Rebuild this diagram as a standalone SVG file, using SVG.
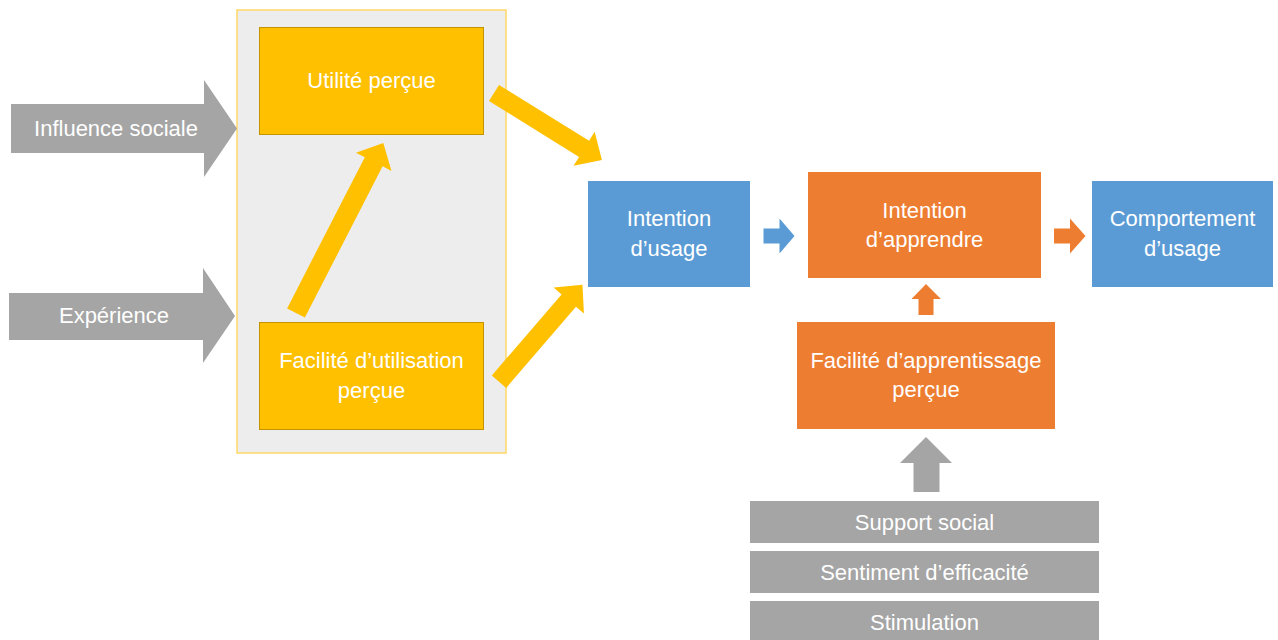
<svg xmlns="http://www.w3.org/2000/svg" width="1278" height="640" viewBox="0 0 1278 640">
<style>
text{font-family:"Liberation Sans",Arial,sans-serif;font-size:22px;fill:#ffffff;text-anchor:middle}
.gray{fill:#A5A5A5}
.yel{fill:#FFC000}
.yelbox{fill:#FFC000;stroke:#C49300;stroke-width:1}
.blue{fill:#5B9BD5}
.org{fill:#ED7D31}
</style>
<rect width="1278" height="640" fill="#ffffff"/>
<g id="container">
<rect x="237" y="10" width="269" height="443" fill="#EDEDED" stroke="#FFD966" stroke-width="1.5"/>
</g>
<g id="influence-sociale">
<polygon class="gray" points="11,104 204,104 204,80 237,128.5 204,177 204,153 11,153"/>
<text x="116" y="136">Influence sociale</text>
</g>
<g id="experience">
<polygon class="gray" points="9,293 203,293 203,268 235,316 203,363 203,340 9,340"/>
<text x="114" y="323">Expérience</text>
</g>
<g id="utilite-percue">
<rect class="yelbox" x="259.5" y="27.5" width="224" height="107"/>
<text x="371.5" y="88">Utilité perçue</text>
</g>
<g id="facilite-utilisation">
<rect class="yelbox" x="259.5" y="322.5" width="224" height="107"/>
<text x="371.5" y="368">Facilité d’utilisation</text>
<text x="371.5" y="398">perçue</text>
</g>
<g id="intention-usage">
<rect class="blue" x="588" y="181" width="162" height="106"/>
<text x="669" y="226">Intention</text>
<text x="669" y="256">d’usage</text>
</g>
<g id="intention-apprendre">
<rect class="org" x="808" y="172" width="233" height="106"/>
<text x="924.5" y="218">Intention</text>
<text x="924.5" y="247">d’apprendre</text>
</g>
<g id="comportement-usage">
<rect class="blue" x="1092" y="181" width="181" height="106"/>
<text x="1182.5" y="226">Comportement</text>
<text x="1182.5" y="256">d’usage</text>
</g>
<g id="facilite-apprentissage">
<rect class="org" x="797" y="322" width="258" height="107"/>
<text x="926" y="368">Facilité d’apprentissage</text>
<text x="926" y="397">perçue</text>
</g>
<g id="support-social">
<rect class="gray" x="750" y="501" width="349" height="42"/>
<text x="924.5" y="530">Support social</text>
</g>
<g id="sentiment-efficacite">
<rect class="gray" x="750" y="551" width="349" height="42"/>
<text x="924.5" y="580">Sentiment d’efficacité</text>
</g>
<g id="stimulation">
<rect class="gray" x="750" y="601" width="349" height="39"/>
<text x="924.5" y="630">Stimulation</text>
</g>
<g id="connectors">
<polygon class="yel" transform="translate(494,93) rotate(31.8)" points="0,-9.5 106,-9.5 106,-20 127,0 106,20 106,9.5 0,9.5"/>
<polygon class="yel" transform="translate(296,313) rotate(-62.8)" points="0,-10 170,-10 170,-20 191,0 170,20 170,10 0,10"/>
<polygon class="yel" transform="translate(499,381.7) rotate(-49.3)" points="0,-9.5 107,-9.5 107,-20 128,0 107,20 107,9.5 0,9.5"/>
<polygon class="blue" points="763.5,228.5 779.5,228.5 779.5,218.5 794.5,236 779.5,253.5 779.5,243.5 763.5,243.5"/>
<polygon class="org" points="1054,228.5 1070,228.5 1070,218.5 1085.5,236 1070,253.5 1070,243.5 1054,243.5"/>
<polygon class="org" points="918.5,315 918.5,299 911.5,299 926,284 941,299 933.5,299 933.5,315"/>
<polygon class="gray" points="913.5,492 913.5,463 900,463 926,437 952,463 939.5,463 939.5,492"/>
</g>
</svg>
